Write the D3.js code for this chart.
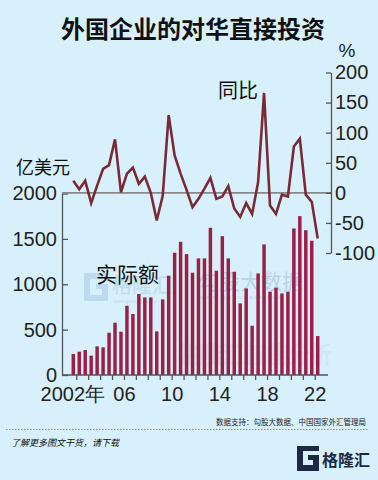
<!DOCTYPE html>
<html><head><meta charset="utf-8">
<script src="https://cdn.jsdelivr.net/npm/d3@7"></script>
<style>
html,body{margin:0;padding:0;background:#d8f0fb;}
svg{display:block;}
</style></head>
<body>
<svg id="chart" width="378" height="480"></svg>
<script>
const periods = ["2002H1","2002H2","2003H1","2003H2","2004H1","2004H2","2005H1","2005H2","2006H1","2006H2",
"2007H1","2007H2","2008H1","2008H2","2009H1","2009H2","2010H1","2010H2","2011H1","2011H2",
"2012H1","2012H2","2013H1","2013H2","2014H1","2014H2","2015H1","2015H2","2016H1","2016H2",
"2017H1","2017H2","2018H1","2018H2","2019H1","2019H2","2020H1","2020H2","2021H1","2021H2",
"2022H1","2022H2"];
const amount = [231,257,275,213,316,305,466,576,477,763,
672,892,855,855,481,833,1094,1347,1468,1332,
1127,1285,1285,1622,1149,1530,1285,1138,789,954,
543,1119,1439,918,962,899,918,1615,1751,1596,
1479,429];
const yoy = [20,6,20,-17,12,40,46,89,1,32,
42,15,27,0,-46,-5,129,62,32,5,
-24,-10,7,25,-10,-6,11,-26,-40,-17,
-35,18,166,-21,-35,-3,-6,77,90,-3,
-15,-76];
const years = [2002,2003,2004,2005,2006,2007,2008,2009,2010,2011,2012,2013,2014,2015,2016,2017,2018,2019,2020,2021,2022];
const yearLabels = {2002:"2002年",2006:"06",2010:"10",2014:"14",2018:"18",2022:"22"};
const leftTicks = [0,500,1000,1500,2000];
const rightTicks = [-100,-50,0,50,100,150,200];

const svg = d3.select("#chart");
const numFont = "'Liberation Sans Narrow','Arial Narrow','Liberation Sans',sans-serif";
const cjk = "'Noto Sans CJK SC','Noto Sans CJK JP',sans-serif";

svg.append("rect").attr("width",378).attr("height",480).attr("fill","#d8f0fb");

const x = d3.scaleBand(periods,[70.3,320.7]).paddingInner(0.42).paddingOuter(0.21);
const yL = d3.scaleLinear([0,2000],[375,193.5]);
const yR = d3.scaleLinear([-100,200],[253,72.5]);
const cx = p => x(p) + x.bandwidth()/2;
const yearCenter = y => (cx(y+"H1") + cx(y+"H2"))/2;
const xYear = d3.scaleLinear([2002,2022],[yearCenter(2002),yearCenter(2022)]);

// title
svg.append("text").attr("x",193).attr("y",38).attr("text-anchor","middle")
  .attr("font-family",cjk).attr("font-weight","bold").attr("font-size",24).attr("fill","#111")
  .text("外国企业的对华直接投资");

// watermarks
const wm = svg.append("g").attr("opacity",0.45);
wm.append("path").attr("d","M84,273 h24 v6 h-18 v16 h12 v-6 h-6 v-5 h12 v17 h-24 z").attr("fill","#9fc0e4");
wm.append("text").attr("x",112).attr("y",293).attr("font-family",cjk).attr("font-size",20).attr("fill","#9fc0e4").text("格隆汇");
wm.append("text").attr("x",113).attr("y",303).attr("font-family",numFont).attr("font-size",5).attr("fill","#9fc0e4").text("www.gelonghui.com");
wm.append("text").attr("x",198).attr("y",289).attr("font-family",cjk).attr("font-size",21).attr("fill","#8fb0dc").text("勾股大数据");
wm.append("text").attr("x",200).attr("y",299).attr("font-family",numFont).attr("font-size",6).attr("letter-spacing",2).attr("fill","#8fb0dc").text("www.gogudata.com");
wm.append("text").attr("x",178).attr("y",362).attr("font-family",cjk).attr("font-size",22).attr("fill","none").attr("stroke","#c8d8e4").attr("stroke-width",1).text("格隆汇智能分析");

// bars
svg.append("g").selectAll("rect").data(periods).join("rect")
  .attr("x",p=>x(p)).attr("width",x.bandwidth())
  .attr("y",(p,i)=>yL(amount[i])).attr("height",(p,i)=>yL(0)-yL(amount[i]))
  .attr("fill","#9c1f45");

// left axis
const gl = svg.append("g").attr("transform","translate(62,0)")
  .call(d3.axisLeft(yL).tickValues(leftTicks).tickSizeInner(-6).tickSizeOuter(0).tickPadding(5).tickFormat(d=>String(d)));
gl.select(".domain").attr("stroke","#555").attr("stroke-width",1.3);
gl.selectAll(".tick line").attr("stroke","#555").attr("stroke-width",1.3);
gl.selectAll("text").attr("font-family",numFont).attr("font-size",20).attr("fill","#222");

// bottom axis
svg.append("line").attr("x1",62).attr("x2",328).attr("y1",375).attr("y2",375).attr("stroke","#555").attr("stroke-width",1.3);
const gb = svg.append("g").attr("transform","translate(0,375)")
  .call(d3.axisBottom(xYear).tickValues(years).tickSizeInner(5).tickSizeOuter(0).tickPadding(7).tickFormat(d=>yearLabels[d]||""));
gb.select(".domain").remove();
gb.selectAll(".tick line").attr("stroke","#555").attr("stroke-width",1.3);
gb.selectAll("text").attr("font-family",numFont).attr("font-size",20).attr("fill","#222");
gb.selectAll("text").filter(d=>d===2002).attr("dx",-4);

// zero line (right axis 0)
svg.append("line").attr("x1",62).attr("x2",331).attr("y1",yR(0)).attr("y2",yR(0)).attr("stroke","#888").attr("stroke-width",1.6);

// right axis
const gr = svg.append("g").attr("transform","translate(331,0)")
  .call(d3.axisRight(yR).tickValues(rightTicks).tickSizeInner(-5).tickSizeOuter(0).tickPadding(4).tickFormat(d=>String(d)));
gr.select(".domain").attr("stroke","#555").attr("stroke-width",1.3);
gr.selectAll(".tick line").attr("stroke","#555").attr("stroke-width",1.3);
gr.selectAll("text").attr("font-family",numFont).attr("font-size",20).attr("fill","#222");

// yoy line
svg.append("path").datum(periods)
  .attr("d",d3.line().x(p=>cx(p)).y((p,i)=>yR(yoy[i])))
  .attr("fill","none").attr("stroke","#7a2a34").attr("stroke-width",2.6);

// labels
svg.append("text").attr("x",347).attr("y",57).attr("text-anchor","middle").attr("font-family",numFont).attr("font-size",19).attr("fill","#222").text("%");
svg.append("text").attr("x",16).attr("y",174).attr("font-family",cjk).attr("font-size",18).attr("fill","#111").text("亿美元");
svg.append("text").attr("x",218).attr("y",98).attr("font-family",cjk).attr("font-size",20).attr("fill","#111").text("同比");
svg.append("text").attr("x",96).attr("y",282).attr("font-family",cjk).attr("font-size",21).attr("fill","#111").text("实际额");

// footer
svg.append("text").attr("x",366).attr("y",425).attr("text-anchor","end").attr("font-family",cjk).attr("font-size",7.5).attr("fill","#222").text("数据支持：勾股大数据、中国国家外汇管理局");
svg.append("line").attr("x1",6).attr("x2",368).attr("y1",429.5).attr("y2",429.5).attr("stroke","#777").attr("stroke-width",0.8).attr("stroke-dasharray","1.5,1.5");
svg.append("text").attr("x",11).attr("y",446).attr("font-family",cjk).attr("font-style","italic").attr("font-size",9).attr("fill","#111").text("了解更多图文干货，请下载");
const logo = svg.append("g");
logo.append("path").attr("d","M297,446 h22 v5 h-16 v14 h10 v-5 h-5 v-5 h11 v16 h-22 z").attr("fill","#1d2942");
logo.append("text").attr("x",322).attr("y",466).attr("font-family",cjk).attr("font-weight","bold").attr("font-size",16).attr("fill","#1d2942").text("格隆汇");
</script>
</body></html>
